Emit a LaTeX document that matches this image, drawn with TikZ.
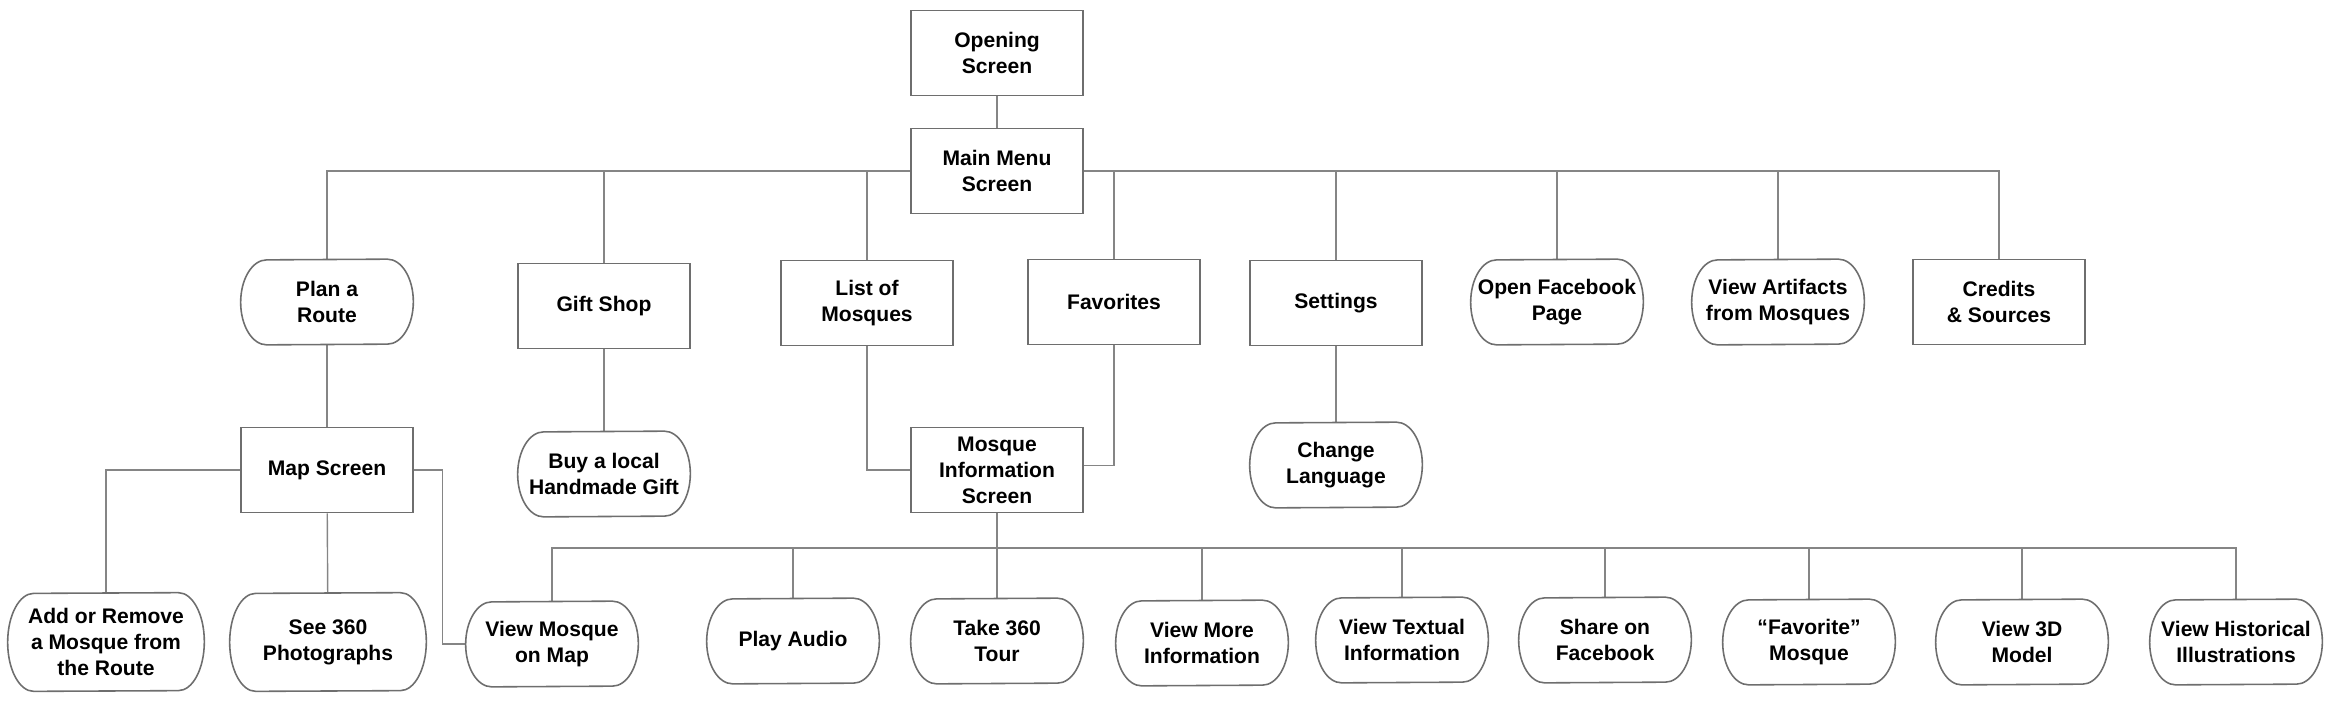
\documentclass[tikz,border=0pt]{standalone}
\usepackage{fontspec}
\setmainfont{Liberation Sans}
\usepackage{tikz}
\usetikzlibrary{calc}

\definecolor{boxgray}{HTML}{6E6E6E}
\definecolor{linkgray}{HTML}{858585}

% outline of a rounded action box: name, optional half height
\newcommand{\pilloutline}[2][0.85cm]{%
  \draw[outline] ([xshift=-0.52cm]#2.north east)
      arc[start angle=90,end angle=-90,x radius=0.52cm,y radius=#1]
    -- ([xshift=0.52cm]#2.south west)
      arc[start angle=270,end angle=90,x radius=0.52cm,y radius=#1]
    -- cycle;}

\begin{document}
\begin{tikzpicture}[x=0.02cm,y=-0.02cm,
    every node/.style={font=\bfseries\fontsize{12}{14.8}\selectfont,
                       align=center,inner sep=0pt},
    screen/.style={draw=boxgray,line width=0.9pt,
                   minimum width=3.44cm,minimum height=1.7cm},
    action/.style={minimum width=3.44cm,minimum height=1.7cm},
    big/.style={minimum width=3.92cm,minimum height=1.96cm},
    outline/.style={draw=boxgray,line width=0.9pt},
    link/.style={draw=linkgray,line width=0.8pt}]

  \useasboundingbox (0,0) rectangle (2332,704);

  \node[screen] (open)      at ( 997,  53) {Opening\\Screen};
  \node[screen] (mainmenu)  at ( 997, 171) {Main Menu\\Screen};

  \node[action] (plan)      at ( 327, 302) {Plan a\\Route};
  \node[screen] (gift)      at ( 604, 306) {Gift Shop};
  \node[screen] (list)      at ( 867, 303) {List of\\Mosques};
  \node[screen] (fav)       at (1114, 302) {Favorites};
  \node[screen] (settings)  at (1336, 303) {Settings};
  \node[action] (openfb)    at (1557, 302) {Open Facebook\\Page};
  \node[action] (artifacts) at (1778, 302) {View Artifacts\\from Mosques};
  \node[screen] (credits)   at (1999, 302) {Credits\\\& Sources};

  \node[screen] (mapscreen) at ( 327, 470) {Map Screen};
  \node[action] (buygift)   at ( 604, 474) {Buy a local\\Handmade Gift};
  \node[screen] (mosqueinfo) at ( 997, 470) {Mosque\\Information\\Screen};
  \node[action] (language)  at (1336, 465) {Change\\Language};

  \node[action,big] (addremove) at ( 106, 642) {Add or Remove\\a Mosque from\\the Route};
  \node[action,big] (see360)    at ( 328, 642) {See 360\\Photographs};
  \node[action] (viewmap)   at ( 552, 644) {View Mosque\\on Map};
  \node[action] (audio)     at ( 793, 641) {Play Audio};
  \node[action] (tour)      at ( 997, 641) {Take 360\\Tour};
  \node[action] (more)      at (1202, 643) {View More\\Information};
  \node[action] (textual)   at (1402, 640) {View Textual\\Information};
  \node[action] (share)     at (1605, 640) {Share on\\Facebook};
  \node[action] (favmosque) at (1809, 642) {“Favorite”\\Mosque};
  \node[action] (model3d)   at (2022, 642) {View 3D\\Model};
  \node[action] (historic)  at (2236, 642) {View Historical\\Illustrations};

  \coordinate (mbus) at (997, 548);

  \draw[link] (open) -- (mainmenu);
  \foreach \nd in {plan,gift,list,fav,settings,openfb,artifacts,credits}
    \draw[link] (mainmenu) -| (\nd);

  \draw[link] (plan) -- (mapscreen);
  \draw[link] (gift) -- (buygift);
  \draw[link] (settings) -- (language);
  \draw[link] (list) |- (mosqueinfo);
  \draw[link] (fav) |- ([yshift=0.09cm]mosqueinfo.east);

  \draw[link] (mapscreen) -| (addremove);
  \draw[link] (mapscreen) -- (see360);
  \draw[link] (mapscreen.east) -- ++(29,0) |- (viewmap);

  \draw[link] (mosqueinfo) -- (tour);
  \foreach \nd in {viewmap,audio,more,textual,share,favmosque,model3d,historic}
    \draw[link] (mbus) -| (\nd);

  \foreach \nd in {plan,openfb,artifacts,buygift,language,viewmap,audio,
                   tour,more,textual,share,favmosque,model3d,historic}
    \pilloutline{\nd};
  \pilloutline[0.98cm]{addremove};
  \pilloutline[0.98cm]{see360};
\end{tikzpicture}
\end{document}
